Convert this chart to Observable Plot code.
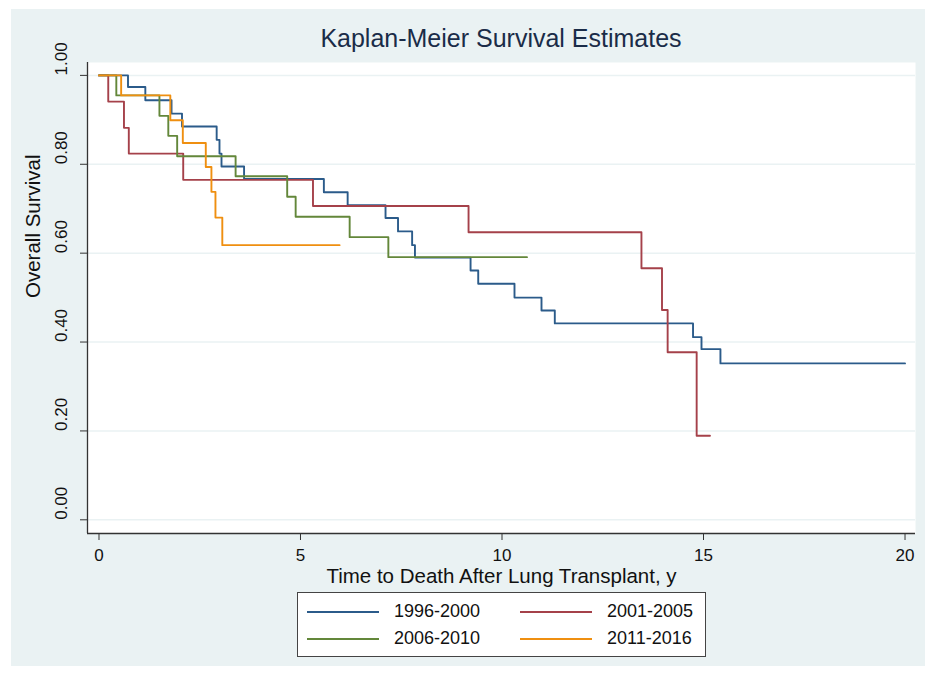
<!DOCTYPE html>
<html><head><meta charset="utf-8">
<script src="https://cdn.jsdelivr.net/npm/d3@7"></script>
<script src="https://cdn.jsdelivr.net/npm/@observablehq/plot@0.6"></script>
<style>
body{margin:0;background:#fff;font-family:"Liberation Sans",Arial,sans-serif;}
#wrap{position:relative;width:935px;height:675px;overflow:hidden;}
#bg{position:absolute;left:11px;top:9px;width:914px;height:657px;background:#eaf2f3;}
#chart{position:absolute;left:0;top:0;}
#title{position:absolute;left:87px;width:828px;top:26px;text-align:center;font-size:25px;line-height:25px;color:#1a2c48;}
#legend{position:absolute;left:297px;top:592px;width:409px;height:65px;box-sizing:border-box;background:#fff;border:1px solid #444;}
#legend .ln{position:absolute;height:2px;}
#legend .lb{position:absolute;font-size:18px;line-height:18px;color:#111;white-space:nowrap;}
</style></head><body>
<div id="wrap"><div id="bg"></div><div id="chart"></div><div id="title">Kaplan-Meier Survival Estimates</div><div id="legend"></div></div>
<script>
// ---- data ----
const groups = ["1996-2000", "2001-2005", "2006-2010", "2011-2016"];
const colors = ["#2b5b8a", "#a5414a", "#63873a", "#ef8f10"];

const t1996 = [0, 0.72, 1.15, 1.80, 2.06, 2.92, 2.99, 3.04, 3.60, 5.58, 6.17, 7.11, 7.42, 7.77, 7.84, 9.22, 9.41, 10.31, 10.98, 11.31, 14.74, 14.95, 15.42, 20.0];
const s1996 = [1, 0.974, 0.944, 0.914, 0.885, 0.855, 0.824, 0.795, 0.767, 0.737, 0.708, 0.679, 0.649, 0.618, 0.590, 0.561, 0.531, 0.500, 0.471, 0.442, 0.411, 0.384, 0.352, 0.352];

const t2001 = [0, 0.23, 0.62, 0.74, 2.09, 5.31, 9.17, 13.46, 13.97, 14.11, 14.83, 15.16];
const s2001 = [1, 0.941, 0.882, 0.824, 0.765, 0.706, 0.647, 0.566, 0.472, 0.377, 0.189, 0.189];

const t2006 = [0, 0.43, 1.50, 1.72, 1.94, 3.39, 4.67, 4.88, 6.22, 7.18, 10.62];
const s2006 = [1, 0.955, 0.909, 0.864, 0.818, 0.773, 0.727, 0.682, 0.636, 0.591, 0.591];

const t2011 = [0, 0.55, 1.77, 2.08, 2.65, 2.79, 2.89, 3.06, 5.97];
const s2011 = [1, 0.955, 0.899, 0.848, 0.794, 0.738, 0.680, 0.618, 0.618];

const xTicks = [0, 5, 10, 15, 20];
const yTicks = [0, 0.2, 0.4, 0.6, 0.8, 1.0];
const xLabel = "Time to Death After Lung Transplant, y";
const yLabel = "Overall Survival";

// ---- build table ----
const seriesT = [t1996, t2001, t2006, t2011];
const seriesS = [s1996, s2001, s2006, s2011];
const rows = [];
groups.forEach((g, gi) => seriesT[gi].forEach((t, i) => rows.push({group: g, t, s: seriesS[gi][i]})));

const xDom = [-0.285, 20.26];
const yDom = [-0.0308, 1.029];
const font = '"Liberation Sans", Arial, sans-serif';

const plot = Plot.plot({
  width: 935, height: 675,
  marginLeft: 87, marginRight: 20, marginTop: 62, marginBottom: 142,
  style: {background: "transparent", fontFamily: font, color: "#111", overflow: "visible"},
  x: {domain: xDom},
  y: {domain: yDom},
  color: {domain: groups, range: colors},
  marks: [
    Plot.frame({fill: "white", stroke: "none"}),
    Plot.gridY(yTicks, {stroke: "#eaf2f3", strokeOpacity: 1, strokeWidth: 1.5}),
    Plot.ruleX([xDom[0]], {stroke: "#333", strokeWidth: 1.3}),
    Plot.ruleY([yDom[0]], {stroke: "#333", strokeWidth: 1.3}),
    Plot.axisX({ticks: xTicks, tickSize: 7, tickPadding: 8, fontSize: 17, label: null, stroke: "#333"}),
    Plot.axisY({ticks: yTicks, tickSize: 7, tickFormat: () => "", label: null, stroke: "#333"}),
    Plot.text(yTicks, {y: d => d, text: d => d.toFixed(2), frameAnchor: "left", dx: -26, rotate: -90, fontSize: 17, fill: "#111"}),
    Plot.text([xLabel], {frameAnchor: "bottom", dy: 35, lineAnchor: "top", fontSize: 20.5, fill: "#111"}),
    Plot.text([yLabel], {frameAnchor: "left", dx: -54, rotate: -90, fontSize: 20.5, fill: "#111"}),
    Plot.line(rows, {x: "t", y: "s", z: "group", stroke: "group", curve: "step-after", strokeWidth: 1.9})
  ]
});
document.getElementById("chart").appendChild(plot);

// ---- legend (HTML, below the plot area) ----
const leg = d3.select("#legend");
const colX = [9, 222], rowY = [19, 46];
groups.forEach((g, i) => {
  const c = i % 2, r = Math.floor(i / 2);
  leg.append("div").attr("class", "ln")
    .style("left", colX[c] + "px").style("top", (rowY[r] - 1) + "px").style("width", "72px")
    .style("background-color", colors[i]);
  leg.append("div").attr("class", "lb")
    .style("left", (colX[c] + 87) + "px").style("top", (rowY[r] - 10) + "px")
    .text(g);
});
</script>
</body></html>
